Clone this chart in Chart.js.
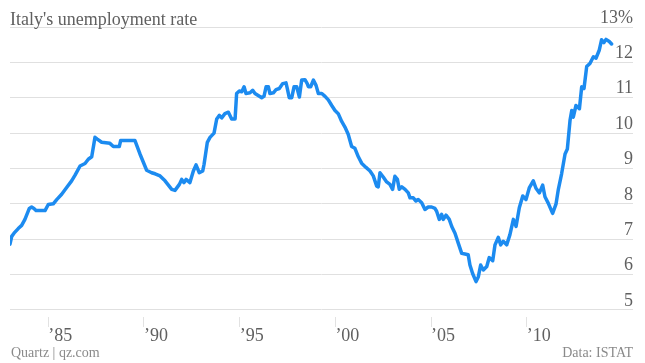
<!DOCTYPE html>
<html>
<head>
<meta charset="utf-8">
<script src="https://cdn.jsdelivr.net/npm/chart.js@4"></script>
<style>
  html, body { margin: 0; padding: 0; background: #fff; }
  #wrap { position: relative; width: 645px; height: 363px; overflow: hidden; }
  #chart { position: absolute; left: 0; top: 0; }
  .txt { position: absolute; font-family: 'Liberation Serif', serif; white-space: nowrap; }
  #title { left: 10px; top: 10px; font-size: 18px; line-height: 18px; color: #606060; }
  #credit { left: 11px; top: 346px; font-size: 14px; line-height: 14px; color: #8a8a8a; }
  #source { right: 12px; top: 346px; font-size: 14px; line-height: 14px; color: #8a8a8a; }
</style>
</head>
<body>
<div id="wrap">
  <canvas id="chart" width="645" height="363"></canvas>
  <div class="txt" id="title">Italy's unemployment rate</div>
  <div class="txt" id="credit">Quartz | qz.com</div>
  <div class="txt" id="source">Data: ISTAT</div>
</div>
<script>
// --- Data ---
const years = [
  1983.00, 1983.09, 1983.21, 1983.43, 1983.61, 1983.78, 1984.01, 1984.13, 1984.25, 1984.36,
  1984.83, 1985.00, 1985.26, 1985.44, 1985.70, 1985.96, 1986.22, 1986.40, 1986.66, 1986.92,
  1987.09, 1987.27, 1987.44, 1987.56, 1987.79, 1988.22, 1988.40, 1988.71, 1988.78, 1989.53,
  1989.79, 1990.14, 1990.40, 1990.58, 1990.84, 1991.10, 1991.45, 1991.62, 1991.85, 1991.97,
  1992.09, 1992.20, 1992.40, 1992.58, 1992.72, 1992.89, 1993.07, 1993.14, 1993.31, 1993.45,
  1993.66, 1993.80, 1993.94, 1994.06, 1994.23, 1994.41, 1994.58, 1994.76, 1994.84, 1994.98,
  1995.11, 1995.23, 1995.33, 1995.54, 1995.68, 1995.80, 1996.03, 1996.15, 1996.27, 1996.38,
  1996.50, 1996.58, 1996.76, 1996.90, 1997.07, 1997.25, 1997.42, 1997.49, 1997.59, 1997.72,
  1997.84, 1997.98, 1998.12, 1998.24, 1998.41, 1998.53, 1998.59, 1998.71, 1998.85, 1998.99,
  1999.11, 1999.29, 1999.46, 1999.63, 1999.81, 1999.98, 2000.15, 2000.33, 2000.50, 2000.67,
  2000.85, 2001.02, 2001.20, 2001.37, 2001.60, 2001.81, 2001.98, 2002.16, 2002.24, 2002.33,
  2002.50, 2002.68, 2002.85, 2002.99, 2003.11, 2003.24, 2003.34, 2003.47, 2003.64, 2003.81,
  2003.90, 2004.07, 2004.21, 2004.33, 2004.51, 2004.68, 2004.85, 2005.03, 2005.20, 2005.29,
  2005.43, 2005.55, 2005.64, 2005.78, 2005.95, 2006.08, 2006.25, 2006.42, 2006.60, 2006.77,
  2006.94, 2007.03, 2007.17, 2007.35, 2007.47, 2007.59, 2007.73, 2007.91, 2008.04, 2008.22,
  2008.34, 2008.51, 2008.64, 2008.77, 2008.95, 2009.12, 2009.30, 2009.44, 2009.61, 2009.79,
  2009.96, 2010.13, 2010.34, 2010.48, 2010.66, 2010.83, 2010.95, 2011.12, 2011.35, 2011.53,
  2011.65, 2011.82, 2012.00, 2012.12, 2012.26, 2012.35, 2012.43, 2012.57, 2012.75, 2012.87,
  2012.99, 2013.13, 2013.30, 2013.48, 2013.62, 2013.79, 2013.91, 2014.03, 2014.14, 2014.31,
  2014.43
];
const rates = [
  6.86, 7.08, 7.17, 7.30, 7.39, 7.56, 7.87, 7.91, 7.87, 7.81,
  7.81, 7.98, 8.00, 8.12, 8.27, 8.46, 8.65, 8.81, 9.07, 9.14,
  9.26, 9.33, 9.88, 9.83, 9.74, 9.71, 9.62, 9.62, 9.79, 9.79,
  9.41, 8.95, 8.88, 8.85, 8.79, 8.65, 8.41, 8.38, 8.55, 8.69,
  8.60, 8.69, 8.60, 8.93, 9.10, 8.88, 8.93, 9.12, 9.74, 9.88,
  10.00, 10.40, 10.50, 10.43, 10.55, 10.59, 10.40, 10.40, 11.12, 11.19,
  11.17, 11.31, 11.12, 11.14, 11.21, 11.12, 11.04, 11.00, 11.04, 11.31,
  11.31, 11.12, 11.14, 11.23, 11.26, 11.40, 11.42, 11.26, 11.00, 11.00,
  11.31, 11.31, 11.02, 11.50, 11.51, 11.40, 11.31, 11.31, 11.50, 11.35,
  11.12, 11.12, 11.04, 10.94, 10.78, 10.64, 10.55, 10.33, 10.17, 9.97,
  9.62, 9.57, 9.33, 9.15, 9.03, 8.93, 8.79, 8.50, 8.48, 8.88,
  8.76, 8.62, 8.55, 8.41, 8.78, 8.69, 8.41, 8.48, 8.41, 8.31,
  8.17, 8.17, 8.08, 8.12, 8.03, 7.84, 7.91, 7.91, 7.87, 7.79,
  7.56, 7.70, 7.56, 7.68, 7.56, 7.36, 7.17, 6.89, 6.60, 6.58,
  6.56, 6.27, 6.03, 5.80, 5.94, 6.27, 6.13, 6.23, 6.48, 6.39,
  6.84, 7.05, 6.84, 6.94, 6.84, 7.13, 7.56, 7.36, 7.89, 8.22,
  8.12, 8.45, 8.65, 8.44, 8.31, 8.53, 8.20, 8.02, 7.73, 8.00,
  8.41, 8.85, 9.41, 9.55, 10.36, 10.64, 10.45, 10.78, 10.69, 11.31,
  11.26, 11.88, 11.97, 12.16, 12.12, 12.35, 12.64, 12.56, 12.65, 12.59,
  12.52
];
const tickYears = [1985, 1990, 1995, 2000, 2005, 2010];
const tickLabels = ['\u201985', '\u201990', '\u201995', '\u201900', '\u201905', '\u201910'];
const gridValues = [5, 6, 7, 8, 9, 10, 11, 12, 13];

const axisFont = { family: "'Liberation Serif', serif", size: 18, lineHeight: 1 };

new Chart(document.getElementById('chart'), {
  type: 'line',
  data: {
    datasets: [{
      data: years.map((y, i) => ({ x: y, y: rates[i] })),
      borderColor: '#1c8bf0',
      borderWidth: 3.5,
      borderJoinStyle: 'round',
      borderCapStyle: 'round',
      pointRadius: 0,
      tension: 0,
      fill: false
    }]
  },
  options: {
    responsive: false,
    animation: false,
    layout: { padding: { left: 10, right: 12, top: 27, bottom: 18 } },
    plugins: { legend: { display: false }, tooltip: { enabled: false } },
    scales: {
      x: {
        type: 'linear',
        min: 1983,
        max: 2015.55,
        afterBuildTicks: s => { s.ticks = tickYears.map(v => ({ value: v })); },
        ticks: {
          callback: v => tickLabels[tickYears.indexOf(v)],
          align: 'start',
          padding: 0,
          maxRotation: 0,
          autoSkip: false,
          color: '#606060',
          font: axisFont
        },
        grid: { drawOnChartArea: false, tickLength: 10, color: '#e2e2e2' },
        border: { display: false }
      },
      y: {
        position: 'right',
        min: 4.8,
        max: 13,
        afterBuildTicks: s => { s.ticks = gridValues.map(v => ({ value: v })); },
        ticks: {
          mirror: true,
          padding: 0,
          labelOffset: -9,
          callback: v => (v === 13 ? '13%' : String(v)),
          color: '#606060',
          font: axisFont
        },
        grid: { color: '#e0e0e0', drawTicks: false },
        border: { display: false }
      }
    }
  }
});
</script>
</body>
</html>
